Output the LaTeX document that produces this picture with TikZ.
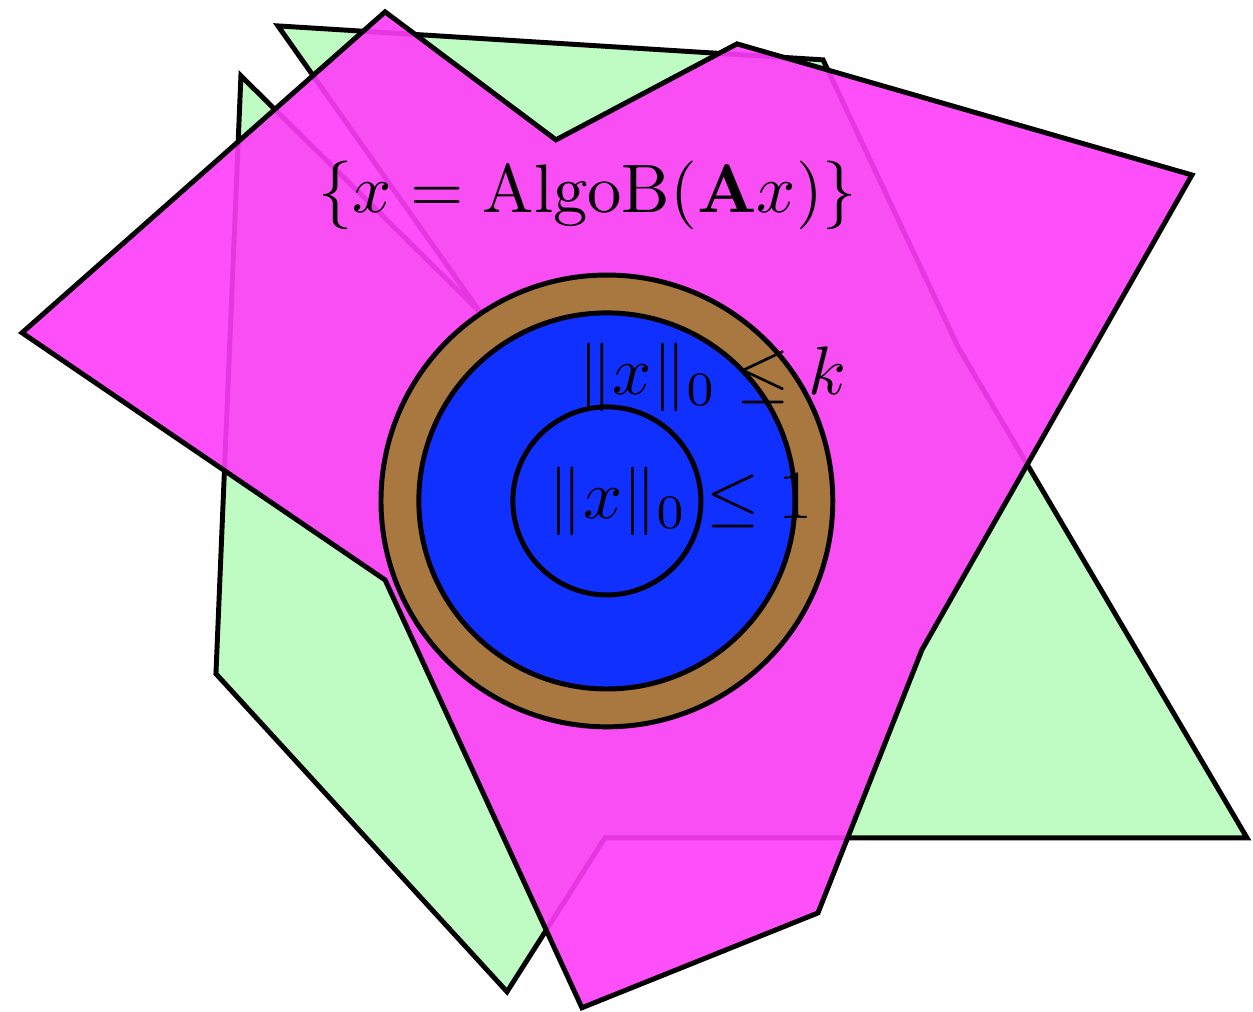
\documentclass[tikz,border=0pt]{standalone}
\usepackage{amsmath}
\usepackage{tikz}
\usetikzlibrary{calc}

\begin{document}
\begin{tikzpicture}[
    region/.style={draw=black,line width=0.72pt},
    greenset/.style={region,fill={rgb,255:red,191;green,252;blue,196}},
    magentaset/.style={region,fill={rgb,255:red,255;green,60;blue,250},fill opacity=0.9},
    brownball/.style={region,fill={rgb,255:red,168;green,120;blue,64}},
    blueball/.style={region,fill={rgb,255:red,16;green,48;blue,255}},
    setlabel/.style={text=black}
  ]
    \useasboundingbox (0,0) rectangle (6.423,5.187);

    % green set
    \draw[greenset] (1.425,5.054) -- (4.219,4.880) -- (4.911,3.409) -- (6.392,0.892)
      -- (3.101,0.892) -- (2.599,0.103) -- (1.107,1.733) -- (1.235,4.798)
      -- (2.460,3.588) -- cycle;

    % magenta set
    \draw[magentaset] (1.974,5.126) -- (2.850,4.470) -- (3.778,4.962) -- (6.110,4.290)
      -- (4.726,1.856) -- (4.193,0.507) -- (2.983,0.021) -- (1.974,2.214)
      -- (0.113,3.481) -- cycle;

    % nested balls
    \draw[brownball] (3.111,2.619) circle (1.158);
    \draw[blueball] (3.111,2.619) circle (0.964);
    \draw[region] (3.111,2.619) circle (0.482);

    \node[setlabel] (fixed) at (3.012,4.183) {$\{x=\mathrm{AlgoB}(\mathbf{A}x)\}$};
    \node[setlabel] (sparsek) at (3.652,3.250) {$\|x\|_0\leq k$};
    \node[setlabel] (sparse1) at (3.490,2.619) {$\|x\|_0\leq 1$};
  \end{tikzpicture}
\end{document}
